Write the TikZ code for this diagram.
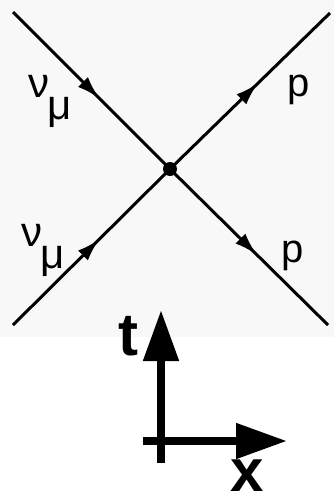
\documentclass[tikz,border=0pt]{standalone}
\usepackage{fontspec}
\usetikzlibrary{arrows.meta, decorations.markings}
\newfontfamily\labelfont{Liberation Sans}
\definecolor{paper}{RGB}{248,248,248}
\newcommand{\numu}{ν\kern-2pt\raisebox{-22pt}{μ}}

\begin{document}
\begin{tikzpicture}[x=1pt, y=-1pt,
  leg/.style={line width=3pt, postaction={decorate},
    decoration={markings, mark=at position 0.55 with {\arrow{Latex[length=23pt, width=14pt]}}}},
  axis/.style={line width=8pt, -{Triangle[length=51pt, width=34pt]}},
  lbl/.style={inner sep=0pt, font=\labelfont\fontsize{40}{40}\selectfont},
  greek/.style={inner sep=0pt, anchor=base west, font=\labelfont\fontsize{42}{42}\selectfont},
  big/.style={inner sep=0pt, text depth=0pt, font=\labelfont\bfseries\fontsize{60}{60}\selectfont}]

  \useasboundingbox (0,0) rectangle (334,499);
  \fill[paper] (0,0) rectangle (334,337);

  % ----- vertex and external legs -----
  \node[circle, fill=black, inner sep=0pt, minimum size=14pt] at (170,169) (vertex) {};
  \coordinate (nuin)  at (13,12);
  \coordinate (nuout) at (13,325);
  \coordinate (pup)   at (330,13);
  \coordinate (pdown) at (328,325);

  \draw[leg] (nuin) -- (vertex.center);
  \draw[leg] (nuout) -- (vertex.center);
  \draw[leg] (vertex.center) -- (pup);
  \draw[leg] (vertex.center) -- (pdown);

  % ----- labels -----
  \node[greek] at (28,97) (nu1) {\numu};
  \node[greek] at (21,246) (nu2) {\numu};
  \node[lbl, anchor=base] at (299,96) (p1) {p};
  \node[lbl, anchor=base] at (293,262) (p2) {p};

  % ----- space-time axes -----
  \coordinate (tbot)   at (161,463);
  \coordinate (ttop)   at (161,310);
  \coordinate (xleft)  at (143,441);
  \coordinate (xright) at (287,441);
  \draw[axis] (tbot) -- (ttop);
  \draw[axis] (xleft) -- (xright);
  \node[big, anchor=base] at (128,355) (tlabel) {t};
  \node[big, anchor=base] at (247,491) (xlabel) {x};

\end{tikzpicture}
\end{document}
